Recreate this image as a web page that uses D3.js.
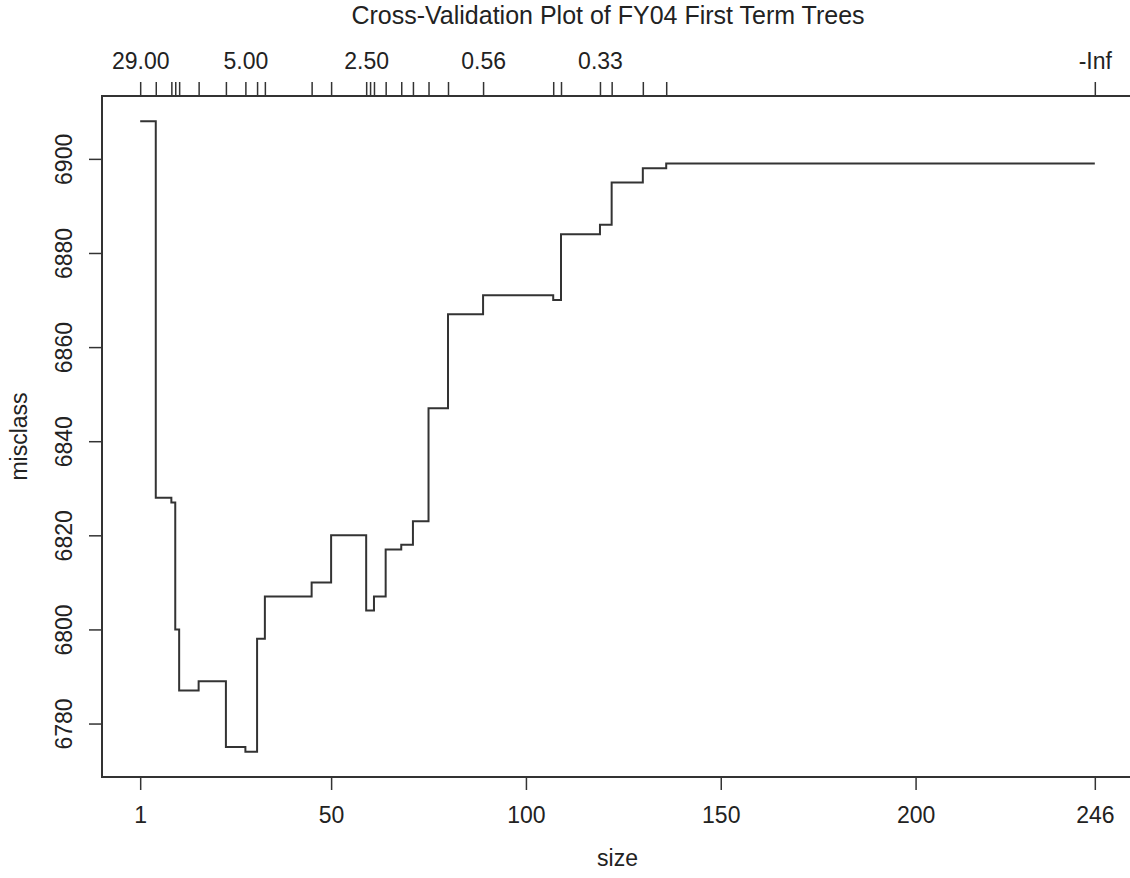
<!DOCTYPE html>
<html>
<head>
<meta charset="utf-8">
<script src="https://cdn.jsdelivr.net/npm/d3@7"></script>
<style>
  body { margin: 0; background: #fff; }
  text { font-family: "Liberation Sans", Arial, sans-serif; fill: #222; }
</style>
</head>
<body>
<div id="chart"></div>
<script>
// tree sizes and cross-validated misclassification
var sizes = [1, 5, 9, 10, 11, 16, 23, 28, 31, 33, 45, 50, 59, 60, 61, 64, 68, 71, 75, 80, 89, 107, 109, 119, 122, 130, 136, 246];
var misclass = [6908, 6828, 6827, 6800, 6787, 6789, 6775, 6774, 6798, 6807, 6810, 6820, 6804, 6804, 6807, 6817, 6818, 6823, 6847, 6867, 6871, 6870, 6884, 6886, 6895, 6898, 6899, 6899];
// k labels on the top axis (blank where the label was dropped for overlap)
var kLabels = ["29.00", "", "", "", "", "", "", "5.00", "", "", "", "", "2.50", "", "", "", "", "", "", "", "0.56", "", "", "0.33", "", "", "", "-Inf"];
var sizeTicks = [1, 50, 100, 150, 200, 246];
var misclassTicks = [6780, 6800, 6820, 6840, 6860, 6880, 6900];

var width = 1130;
var height = 878;
var mLeft = 102, mRight = 1133, mTop = 96, mBottom = 777;

var svg = d3.select("#chart")
    .append("svg")
    .attr("width", width)
    .attr("height", height);

// R style 4% padding of the data range
var xExt = d3.extent(sizes), xPad = (xExt[1] - xExt[0]) * 0.04;
var yExt = d3.extent(misclass), yPad = (yExt[1] - yExt[0]) * 0.04;

var x = d3.scaleLinear()
    .domain([xExt[0] - xPad, xExt[1] + xPad])
    .range([mLeft, mRight]);

var y = d3.scaleLinear()
    .domain([yExt[0] - yPad, yExt[1] + yPad])
    .range([mBottom, mTop]);

var axisColor = "#333";
var labelSize = "23px";

var gBottom = svg.append("g")
    .attr("transform", "translate(0," + mBottom + ")")
    .call(d3.axisBottom(x).tickValues(sizeTicks).tickFormat(d3.format("d")).tickSize(13).tickPadding(17));

var gTop = svg.append("g")
    .attr("transform", "translate(0," + mTop + ")")
    .call(d3.axisTop(x).tickValues(sizes).tickFormat(function(d, i) { return kLabels[i]; }).tickSize(14).tickPadding(13));

var gLeft = svg.append("g")
    .attr("transform", "translate(" + mLeft + ",0)")
    .call(d3.axisLeft(y).tickValues(misclassTicks).tickFormat(d3.format("d")).tickSize(13));

[gBottom, gTop, gLeft].forEach(function(g) {
    g.select(".domain").remove();
    g.selectAll(".tick line").attr("stroke", axisColor).attr("stroke-width", 1.5);
    g.selectAll(".tick text")
        .style("font-family", "Liberation Sans, Arial, sans-serif")
        .style("font-size", labelSize)
        .attr("fill", "#222");
});

// rotated labels on the left axis
gLeft.selectAll(".tick text")
    .attr("x", null)
    .attr("dy", null)
    .attr("text-anchor", "middle")
    .attr("transform", "translate(-30,0) rotate(-90)");

// frame
svg.append("rect")
    .attr("x", mLeft)
    .attr("y", mTop)
    .attr("width", mRight - mLeft)
    .attr("height", mBottom - mTop)
    .attr("fill", "none")
    .attr("stroke", axisColor)
    .attr("stroke-width", 2);

var line = d3.line()
    .x(function(d, i) { return x(sizes[i]); })
    .y(function(d) { return y(d); })
    .curve(d3.curveStepAfter);

svg.append("path")
    .datum(misclass)
    .attr("d", line)
    .attr("fill", "none")
    .attr("stroke", axisColor)
    .attr("stroke-width", 2);

svg.append("text")
    .attr("x", 608)
    .attr("y", 24)
    .attr("text-anchor", "middle")
    .style("font-size", "25px")
    .text("Cross-Validation Plot of FY04 First Term Trees");

svg.append("text")
    .attr("x", x(123.5))
    .attr("y", 866)
    .attr("text-anchor", "middle")
    .style("font-size", labelSize)
    .text("size");

svg.append("text")
    .attr("transform", "translate(27," + y(6841) + ") rotate(-90)")
    .attr("text-anchor", "middle")
    .style("font-size", labelSize)
    .text("misclass");
</script>
</body>
</html>
